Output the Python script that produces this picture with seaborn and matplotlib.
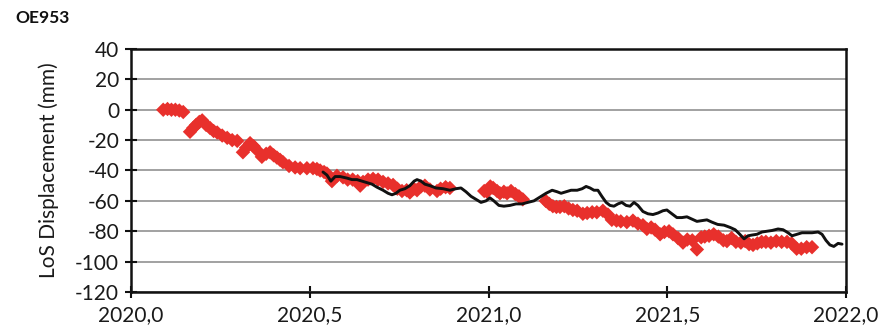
import matplotlib
matplotlib.use("Agg")
import matplotlib.pyplot as plt
from matplotlib.ticker import FuncFormatter, MultipleLocator
import numpy as np
import pandas as pd
import seaborn as sns

# Red diamonds: InSAR LoS displacement series (decimal year, mm)
insar_t = [2020.090, 2020.102, 2020.113, 2020.124, 2020.135, 2020.146,
           2020.165, 2020.174, 2020.182, 2020.191, 2020.199, 2020.210,
           2020.221, 2020.231, 2020.241, 2020.255, 2020.269, 2020.283,
           2020.297, 2020.313, 2020.322, 2020.333, 2020.343, 2020.352,
           2020.366, 2020.378, 2020.389, 2020.399, 2020.408, 2020.417,
           2020.425, 2020.442, 2020.459, 2020.473, 2020.492, 2020.509,
           2020.520, 2020.529, 2020.540, 2020.548, 2020.562, 2020.576,
           2020.593, 2020.606, 2020.620, 2020.634, 2020.641, 2020.649,
           2020.663, 2020.677, 2020.691, 2020.705, 2020.719, 2020.733,
           2020.745, 2020.758, 2020.771, 2020.780, 2020.791, 2020.800,
           2020.811, 2020.822, 2020.836, 2020.856, 2020.866, 2020.880,
           2020.892,
           2020.988, 2020.996, 2021.005, 2021.013, 2021.024, 2021.032,
           2021.043, 2021.052, 2021.063, 2021.075, 2021.085, 2021.096,
           2021.160, 2021.170, 2021.180, 2021.190, 2021.200, 2021.212,
           2021.224, 2021.236, 2021.248, 2021.264, 2021.276, 2021.290,
           2021.303, 2021.320, 2021.334, 2021.345, 2021.358, 2021.370,
           2021.387, 2021.404, 2021.418, 2021.432, 2021.443, 2021.455,
           2021.466, 2021.480, 2021.492, 2021.505, 2021.516, 2021.530,
           2021.544, 2021.556, 2021.570, 2021.583, 2021.595, 2021.605,
           2021.617, 2021.630, 2021.643, 2021.657, 2021.667, 2021.680,
           2021.692, 2021.706, 2021.718, 2021.729, 2021.740, 2021.752,
           2021.764, 2021.776, 2021.790, 2021.805, 2021.820, 2021.835,
           2021.848, 2021.862, 2021.875, 2021.890, 2021.905]
insar_mm = [0, 0.5, 0, 0, -0.5, -1.5,
            -14.5, -12, -10, -8, -7, -10,
            -12, -14, -15, -17, -18.5, -20,
            -20.5, -28, -25, -22, -24, -26.5,
            -31, -29, -28, -30, -31.5, -33,
            -34.5, -37, -38, -38.5, -38.5, -38.5,
            -39, -40, -41, -42, -47, -43.5,
            -44.5, -46, -46, -47, -50, -47.5,
            -46, -45.5, -46, -47.5, -48.5, -49.5,
            -52, -53.5, -53, -54.5, -52, -53,
            -50.5, -50, -52.5, -53.5, -52, -51,
            -51.5,
            -53.5, -54, -50.5, -51.5, -53.5, -55,
            -54, -55, -53.5, -55.5, -57, -59,
            -60, -62, -63.5, -64, -64, -63.5,
            -65, -66, -66.5, -68.5, -68, -67.5,
            -67.5, -66.5, -69, -72.5, -73, -73.5,
            -74, -73, -75, -76, -78.5, -77.5,
            -79, -82, -80.5, -80, -82, -84.5,
            -87.5, -85.5, -86, -92, -84, -83.5,
            -83, -82, -83.5, -86, -86.5, -84.5,
            -87, -87.5, -86.5, -88.5, -89, -88,
            -87, -87, -87.5, -86.5, -87, -87,
            -88, -91.5, -91.5, -90.5, -90.5]

# Black line: GNSS series projected to LoS (decimal year, mm)
gnss_t = [2020.537, 2020.548, 2020.559, 2020.571, 2020.585, 2020.604,
          2020.618, 2020.632, 2020.646, 2020.660, 2020.674, 2020.688,
          2020.705, 2020.719, 2020.730, 2020.741, 2020.752, 2020.766,
          2020.780, 2020.792, 2020.800, 2020.811, 2020.822, 2020.836,
          2020.853, 2020.873, 2020.892, 2020.909, 2020.923, 2020.937,
          2020.951, 2020.965, 2020.979, 2020.993, 2021.004, 2021.015,
          2021.029, 2021.043, 2021.060, 2021.077, 2021.094, 2021.110,
          2021.127, 2021.144, 2021.161, 2021.178, 2021.192, 2021.203,
          2021.217, 2021.231, 2021.248, 2021.262, 2021.273, 2021.284,
          2021.295, 2021.306, 2021.317, 2021.329, 2021.340, 2021.351,
          2021.362, 2021.373, 2021.385, 2021.396, 2021.407, 2021.418,
          2021.432, 2021.446, 2021.460, 2021.474, 2021.488, 2021.499,
          2021.513, 2021.527, 2021.541, 2021.555, 2021.569, 2021.583,
          2021.597, 2021.611, 2021.625, 2021.641, 2021.659, 2021.676,
          2021.690, 2021.703, 2021.715, 2021.726, 2021.737, 2021.751,
          2021.765, 2021.779, 2021.793, 2021.810, 2021.824, 2021.838,
          2021.849, 2021.863, 2021.877, 2021.891, 2021.905, 2021.922,
          2021.933, 2021.944, 2021.955, 2021.966, 2021.978, 2021.989]
gnss_mm = [-41, -43, -47, -44, -44, -45,
           -46, -46, -47, -48, -49, -51,
           -53, -55, -56, -55, -53, -52,
           -50, -47, -46, -47, -49, -50,
           -51.5, -52, -53, -52, -51.5, -54,
           -57, -59, -61, -60, -58, -60,
           -63, -63.5, -63, -62, -62, -61,
           -60, -57.5, -55, -53, -54, -55,
           -54, -53, -53, -52, -50.5, -51.5,
           -53, -53, -57, -61, -63, -63.5,
           -62, -61, -63, -63.5, -61, -63,
           -67, -68.5, -69, -68, -66.5, -66,
           -68.5, -71, -71, -70.5, -72, -73.5,
           -73, -72.5, -74, -75.5, -76, -77.5,
           -79, -82, -85, -83, -82.5, -82,
           -80.5, -80, -79.5, -78.5, -79, -81,
           -83, -82, -81, -81, -81, -80.5,
           -82, -86, -89, -90, -88, -88.5]

insar = pd.DataFrame({"year": insar_t, "disp": insar_mm})
gnss = pd.DataFrame({"year": gnss_t, "disp": gnss_mm})

sns.set_style("white")
plt.rcParams["font.family"] = ["Lato", "DejaVu Sans"]

fig = plt.figure(figsize=(8.89, 3.32), dpi=100)
ax = fig.add_axes([0.1474, 0.1205, 0.8042, 0.7319])

sns.scatterplot(data=insar, x="year", y="disp", marker="D", s=54,
                color="#e8302c", edgecolor="none", linewidth=0, ax=ax,
                zorder=3)
sns.lineplot(data=gnss, x="year", y="disp", color="#111111", linewidth=2.1,
             ax=ax, zorder=4, sort=False)

ax.set_xlim(2020.0, 2022.0)
ax.set_ylim(-120, 40)
ax.xaxis.set_major_locator(MultipleLocator(0.5))
ax.yaxis.set_major_locator(MultipleLocator(20))
ax.xaxis.set_major_formatter(FuncFormatter(lambda v, p: f"{v:.1f}".replace(".", ",")))
ax.yaxis.set_major_formatter(FuncFormatter(lambda v, p: f"{v:.0f}"))

ax.grid(axis="y", color="#9a9a9a", linewidth=1.3)
ax.grid(axis="x", visible=False)
ax.set_axisbelow(True)

for side in ["left", "right", "top", "bottom"]:
    ax.spines[side].set_visible(True)
    ax.spines[side].set_color("#111111")
    ax.spines[side].set_linewidth(1.8)

ax.tick_params(axis="both", which="major", direction="inout", length=9,
               width=1.5, color="#111111", labelsize=15, labelcolor="#1a1a1a",
               bottom=True, left=True, top=False, right=False)
ax.tick_params(axis="y", pad=4)
ax.tick_params(axis="x", pad=5)

ax.set_xlabel("")
ax.set_ylabel("LoS Displacement (mm)", fontsize=15, color="#1a1a1a", labelpad=12)

fig.text(0.017, 0.945, "OE953", fontsize=12.5, fontweight="bold",
         color="#111111", ha="left", va="center")

fig.savefig("out.png", dpi=100)
